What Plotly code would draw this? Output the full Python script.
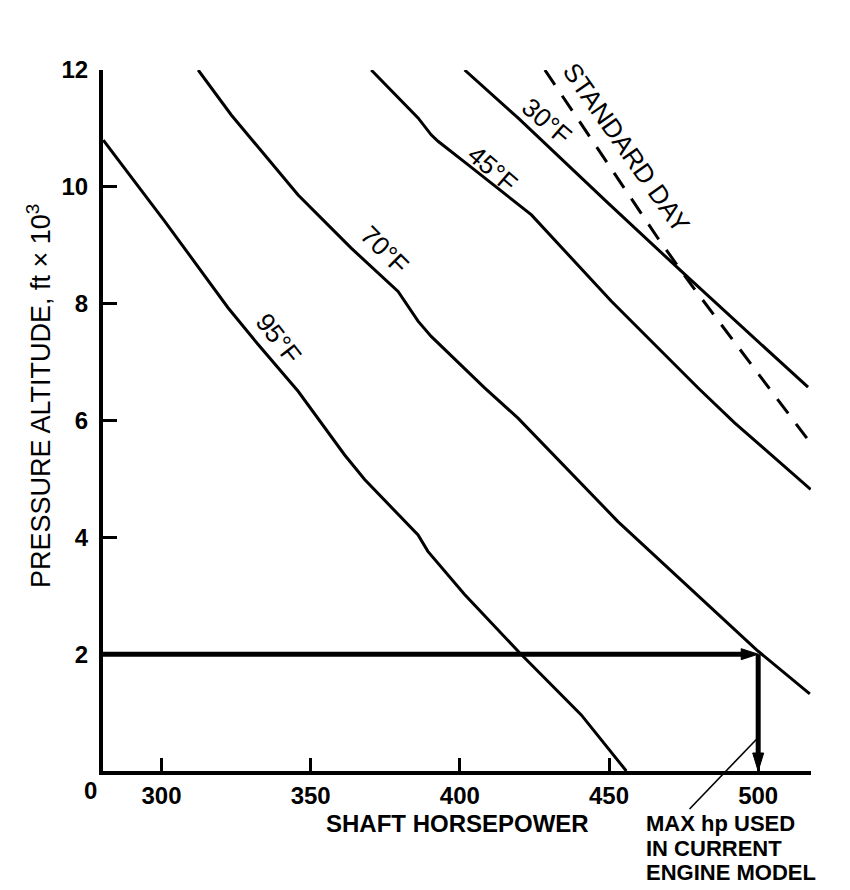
import plotly.graph_objects as go

FONT = "Liberation Sans"

# ---------------- data ----------------
x_range = [280.4, 517.7]          # shaft horsepower
y_range = [0, 12]                 # pressure altitude, ft x 10^3
x_ticks = [300, 350, 400, 450, 500]
y_ticks = [2, 4, 6, 8, 10, 12]

hp_95 = [280.5, 301.1, 322.3, 332.4, 345.8, 354.7, 361.4, 368.1, 374.8, 386.0, 389.3, 401.6, 420.1, 440.7, 455.8]
alt_95 = [10.80, 9.41, 7.93, 7.30, 6.50, 5.87, 5.41, 4.99, 4.64, 4.04, 3.76, 3.02, 2.02, 0.96, 0.0]

hp_70 = [312.3, 323.4, 345.8, 363.6, 379.3, 386.0, 390.4, 408.3, 419.5, 453.0, 500.0, 517.3]
alt_70 = [12.0, 11.23, 9.86, 8.95, 8.21, 7.70, 7.44, 6.56, 6.04, 4.27, 2.05, 1.32]

hp_45 = [370.3, 386.0, 390.4, 392.7, 402.7, 424.0, 450.8, 479.8, 492.1, 517.6]
alt_45 = [12.0, 11.18, 10.89, 10.78, 10.38, 9.52, 8.04, 6.56, 5.96, 4.82]

hp_30 = [401.6, 419.5, 449.7, 475.4, 516.7]
alt_30 = [12.0, 11.18, 9.72, 8.50, 6.57]

hp_std = [428.5, 466.4, 477.6, 513.3, 517.3]
alt_std = [12.0, 9.12, 8.32, 5.91, 5.63]

max_hp = 500          # max hp used in current engine model
chosen_alt = 2.0      # pressure altitude of the worked example

# label positions (hp, altitude) and text angles
curve_labels = ["95°F", "70°F", "45°F", "30°F", "STANDARD DAY"]
label_hp = [339.1, 374.8, 411.1, 429.0, 455.8]
label_alt = [7.41, 8.92, 10.31, 11.12, 10.66]
label_angle = [52, 45, 41, 41, 55]

pointer_from = (477.0, -0.65)
pointer_to = (500.5, 0.6)

note_lines = ["MAX hp USED", "IN CURRENT", "ENGINE MODEL"]

# ---------------- layout geometry ----------------
W, H = 850, 890
ML, MR, MT, MB = 95, 47, 62, 127
plot_w = W - ML - MR
plot_h = H - MT - MB
px_per_hp = plot_w / (x_range[1] - x_range[0])
px_per_alt = plot_h / (y_range[1] - y_range[0])


def to_paper_x(hp):
    return (hp - x_range[0]) / (x_range[1] - x_range[0])


def to_paper_y(alt):
    return (alt - y_range[0]) / (y_range[1] - y_range[0])


fig = go.Figure()

line_style = dict(color="black", width=3)
for hp, alt in [(hp_95, alt_95), (hp_70, alt_70), (hp_45, alt_45), (hp_30, alt_30)]:
    fig.add_trace(go.Scatter(x=hp, y=alt, mode="lines", line=line_style,
                             showlegend=False, hoverinfo="skip"))

fig.add_trace(go.Scatter(x=hp_std, y=alt_std, mode="lines",
                         line=dict(color="black", width=3, dash="18px,13px"),
                         showlegend=False, hoverinfo="skip"))

# worked-example arrows
head_len_h = 17 / px_per_hp
head_half_h = 5.5 / px_per_alt
fig.add_trace(go.Scatter(x=[x_range[0], max_hp - head_len_h + 0.5], y=[chosen_alt, chosen_alt],
                         mode="lines", line=dict(color="black", width=5),
                         showlegend=False, hoverinfo="skip"))
fig.add_trace(go.Scatter(x=[max_hp, max_hp - head_len_h, max_hp - head_len_h, max_hp],
                         y=[chosen_alt, chosen_alt + head_half_h, chosen_alt - head_half_h, chosen_alt],
                         mode="lines", fill="toself", fillcolor="black",
                         line=dict(color="black", width=1),
                         showlegend=False, hoverinfo="skip"))

head_len_v = 18 / px_per_alt
head_half_v = 5.5 / px_per_hp
fig.add_trace(go.Scatter(x=[max_hp, max_hp], y=[chosen_alt, head_len_v - 0.02],
                         mode="lines", line=dict(color="black", width=5),
                         showlegend=False, hoverinfo="skip"))
fig.add_trace(go.Scatter(x=[max_hp, max_hp - head_half_v, max_hp + head_half_v, max_hp],
                         y=[0, head_len_v, head_len_v, 0],
                         mode="lines", fill="toself", fillcolor="black",
                         line=dict(color="black", width=1),
                         showlegend=False, hoverinfo="skip"))

# curve labels
for txt, hx, ay, ang in zip(curve_labels, label_hp, label_alt, label_angle):
    fig.add_annotation(x=hx, y=ay, xref="x", yref="y", text=txt, showarrow=False,
                       textangle=ang, xanchor="center", yanchor="middle",
                       font=dict(family=FONT, size=26, color="black"))

# pointer line for the MAX hp note (paper refs so it is not clipped)
fig.add_shape(type="line", xref="paper", yref="paper",
              x0=to_paper_x(pointer_from[0]), y0=to_paper_y(pointer_from[1]),
              x1=to_paper_x(pointer_to[0]), y1=to_paper_y(pointer_to[1]),
              line=dict(color="black", width=1.6))

note_y_px = [815, 840, 864]
for t, ypx in zip(note_lines, note_y_px):
    fig.add_annotation(x=(637 - ML) / plot_w, y=(MT + plot_h - ypx) / plot_h,
                       xref="paper", yref="paper", text=t, showarrow=False,
                       xanchor="left", yanchor="middle", borderpad=0,
                       font=dict(family=FONT, size=22, color="black", weight="bold"))

# axis titles
fig.add_annotation(x=0.5, y=(MT + plot_h - 815) / plot_h, xref="paper", yref="paper",
                   text="SHAFT HORSEPOWER", showarrow=False, xanchor="center", yanchor="middle",
                   font=dict(family=FONT, size=24, color="black", weight="bold"))
fig.add_annotation(x=(31 - ML) / plot_w, y=(MT + plot_h - 388) / plot_h, xref="paper", yref="paper",
                   text="PRESSURE ALTITUDE, ft \u00d7 10<sup>3</sup>", showarrow=False,
                   textangle=-90, xanchor="center", yanchor="middle",
                   font=dict(family=FONT, size=27, color="black"))

# origin "0" label
fig.add_annotation(x=x_range[0], y=0, xref="x", yref="y", text="0", showarrow=False,
                   xanchor="right", yanchor="top", xshift=-4, yshift=-4,
                   font=dict(family=FONT, size=24, color="black", weight="bold"))

fig.update_xaxes(range=x_range, showline=True, linewidth=4, linecolor="black",
                 ticks="inside", ticklen=13, tickwidth=2.5, tickcolor="black",
                 tickvals=x_ticks, ticktext=[str(v) for v in x_ticks],
                 tickfont=dict(family=FONT, size=24, color="black", weight="bold"),
                 showgrid=False, zeroline=False, mirror=False)
fig.update_yaxes(range=y_range, showline=True, linewidth=4, linecolor="black",
                 ticks="inside", ticklen=14, tickwidth=2.5, tickcolor="black",
                 tickvals=y_ticks, ticktext=[str(v) for v in y_ticks],
                 tickfont=dict(family=FONT, size=24, color="black", weight="bold"),
                 ticklabelstandoff=6,
                 showgrid=False, zeroline=False, mirror=False)

fig.update_layout(width=W, height=H, margin=dict(l=ML, r=MR, t=MT, b=MB),
                  plot_bgcolor="white", paper_bgcolor="white",
                  font=dict(family=FONT, color="black"), showlegend=False)

fig.write_html("out.html")
